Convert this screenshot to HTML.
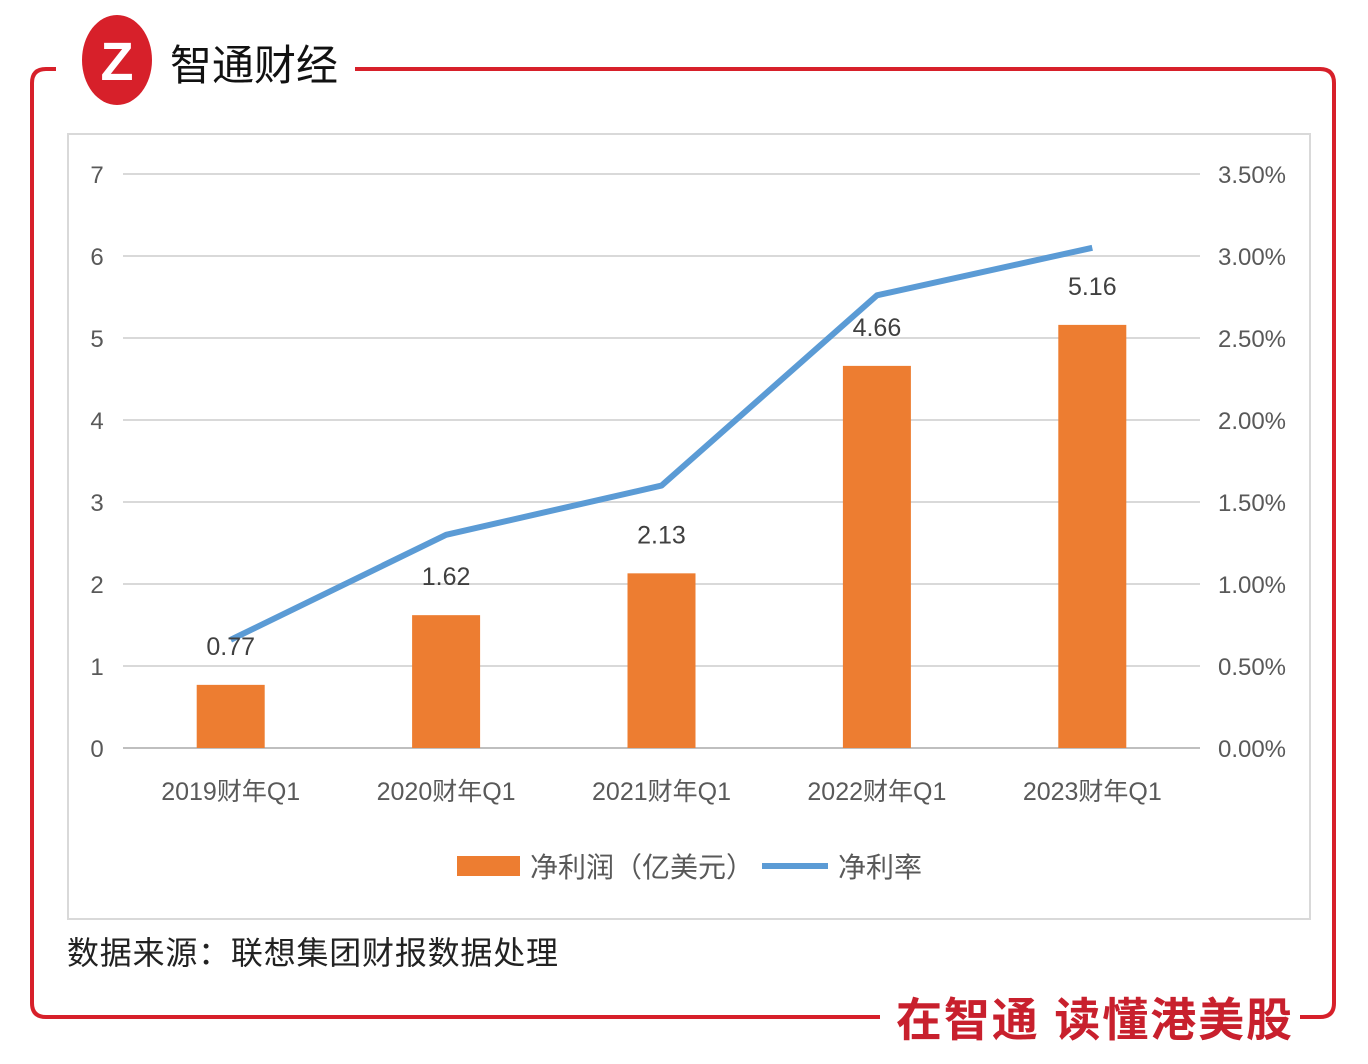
<!DOCTYPE html>
<html><head><meta charset="utf-8"><style>
body{margin:0;background:#fff;width:1368px;height:1064px;overflow:hidden}
svg{display:block}
text{font-family:"Liberation Sans","Noto Sans CJK SC",sans-serif}
</style></head><body>
<svg id="c" width="1368" height="1064">
<g fill="none" stroke="#d7202a" stroke-width="4">
<path d="M56,69 H46 Q32,69 32,83 V1003 Q32,1017 46,1017 H880"/>
<path d="M355,69 H1320 Q1334,69 1334,83 V1003 Q1334,1017 1320,1017 H1300"/>
</g>
<g>
<ellipse cx="117" cy="60" rx="35" ry="45" fill="#d7202a"/>
<text x="117" y="80" font-size="54" font-weight="bold" fill="#fff" text-anchor="middle" font-family="Liberation Serif,serif">Z</text>
<text x="170" y="80" font-size="42" fill="#111" textLength="168" lengthAdjust="spacingAndGlyphs">智通财经</text>
</g>
<rect x="68" y="134" width="1242" height="785" fill="none" stroke="#d9d9d9" stroke-width="2"/>
<g id="grid"></g><g id="bars"></g><g id="line"></g><g id="labels"></g>
<g>
<rect x="457" y="856" width="63" height="20" fill="#ed7d31"/>
<text x="530" y="877" font-size="28" fill="#595959">净利润（亿美元）</text>
<line x1="762" y1="866" x2="828" y2="866" stroke="#5b9bd5" stroke-width="6"/>
<text x="838" y="877" font-size="28" fill="#595959">净利率</text>
</g>
<text x="67" y="964" font-size="32" fill="#222" textLength="491">数据来源：联想集团财报数据处理</text>
<text x="896" y="1036" font-size="46" font-weight="bold" fill="#c8202d" textLength="396">在智通 读懂港美股</text>
</svg>
<script>
const categories=["2019财年Q1","2020财年Q1","2021财年Q1","2022财年Q1","2023财年Q1"];
const profit=[0.77,1.62,2.13,4.66,5.16];
const margin=[0.66,1.30,1.60,2.76,3.05];
const leftTicks=[0,1,2,3,4,5,6,7];
const rightTicks=["0.00%","0.50%","1.00%","1.50%","2.00%","2.50%","3.00%","3.50%"];
const NS="http://www.w3.org/2000/svg";
const x0=123,x1=1200,y0=748,yTop=174;
const yL=v=>y0-(v/7)*(y0-yTop);
const yR=v=>y0-(v/3.5)*(y0-yTop);
const bw=(x1-x0)/categories.length;
const xc=i=>x0+bw*(i+0.5);
function mk(t,a,p){const e=document.createElementNS(NS,t);for(const k in a)e.setAttribute(k,a[k]);p.appendChild(e);return e;}
const G=document.getElementById('grid'),B=document.getElementById('bars'),L=document.getElementById('line'),T=document.getElementById('labels');
leftTicks.forEach((v,i)=>{
 const y=yL(v);
 const ln=mk('line',{x1:x0,x2:x1,y1:y,y2:y,stroke:i==0?'#bfbfbf':'#d9d9d9','stroke-width':2},G);
 
 
 const t=mk('text',{x:97,y:y+9,'font-size':24,fill:'#595959','text-anchor':'middle'},G);t.textContent=v;
 
 
 const r=mk('text',{x:1252,y:y+9,'font-size':24,fill:'#595959','text-anchor':'middle'},G);r.textContent=rightTicks[i];
 
 
});
categories.forEach((c,i)=>{
 const b=mk('rect',{x:xc(i)-34,y:yL(profit[i]),width:68,height:y0-yL(profit[i]),fill:'#ed7d31'},B);
 
 
 const t=mk('text',{x:xc(i),y:yL(profit[i])-30,'font-size':25,fill:'#404040','text-anchor':'middle'},T);t.textContent=profit[i].toFixed(2);
 
 
 const x=mk('text',{x:xc(i),y:800,'font-size':25,fill:'#595959','text-anchor':'middle'},T);x.textContent=c;
 
 
});
const pl=mk('polyline',{points:margin.map((m,i)=>xc(i)+','+yR(m)).join(' '),fill:'none',stroke:'#5b9bd5','stroke-width':6,'stroke-linejoin':'round'},L);


</script>
</body></html>
